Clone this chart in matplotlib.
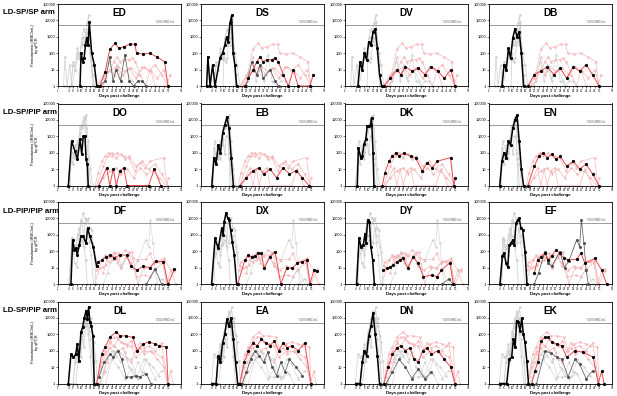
import matplotlib.pyplot as plt
import numpy as np

plt.rcParams['font.family'] = ['Liberation Sans', 'DejaVu Sans']

row_labels = ['LD-SP/SP arm', 'LD-SP/PIP arm', 'LD-PIP/PIP arm', 'LD-SP/PIP arm']
panel_names = [['ED', 'DS', 'DV', 'DB'],
               ['DO', 'EB', 'DK', 'EN'],
               ['DF', 'DX', 'DY', 'EF'],
               ['DL', 'EA', 'DN', 'EK']]

# primary parasitaemia (black line), days / iRBC per mL
black_lines = {
    'ED': ([9.2, 9.7, 10.5, 11.1, 11.7, 12.3, 12.9, 13.5, 14.6, 15.8, 17],
           [1, 100, 30, 50, 300, 850, 300, 8000, 100, 20, 1]),
    'DS': ([1.6, 2.2, 3.2, 4.4, 5.5, 7.8, 9, 10, 10.9, 11.6, 12.4, 13.2, 13.9, 14.7, 15.5],
           [1, 60, 1, 20, 1, 50, 100, 300, 1000, 500, 6600, 20000, 100, 20, 1]),
    'DV': ([5, 6, 7, 8, 9, 10, 11, 12, 13, 14, 15, 16],
           [1, 30, 10, 100, 40, 500, 300, 2000, 3000, 200, 5, 1]),
    'DB': ([5, 6, 7, 8, 9, 10, 11, 12, 13, 14, 15],
           [1, 20, 10, 200, 50, 800, 3000, 1000, 2000, 100, 1]),
    'DO': ([3.8, 5.3, 6.9, 8, 9.2, 10, 10.7, 11.5, 12, 12.6, 13],
           [1, 500, 120, 40, 640, 80, 1000, 1000, 40, 20, 1]),
    'EB': ([4, 5, 6, 7, 8, 9, 10, 11, 12, 13, 14],
           [1, 50, 20, 300, 100, 1500, 5000, 15000, 3000, 50, 1]),
    'DK': ([4.7, 5.2, 6.3, 7, 7.8, 8.6, 9.3, 10.1, 10.9, 11.3, 12, 12.4],
           [1, 200, 50, 60, 320, 640, 4200, 4200, 5200, 13000, 100, 1]),
    'EN': ([4, 5, 6, 7, 8, 9, 10, 11, 12, 13, 14, 15],
           [1, 30, 100, 50, 500, 300, 3000, 10000, 20000, 500, 10, 1]),
    'DF': ([5, 5.8, 6.6, 7.3, 7.9, 8.9, 9.6, 10.7, 12, 12.7, 13.8, 15.3, 16.9],
           [1, 480, 120, 150, 60, 240, 800, 800, 300, 2500, 800, 190, 12]),
    'DX': ([3.9, 5.5, 7, 8.6, 9.3, 9.8, 10.6, 11.4, 12.1, 12.7, 13.5, 14.4, 15.5],
           [1, 600, 150, 2500, 1000, 6300, 22000, 10000, 8000, 2000, 380, 60, 1]),
    'DY': ([4.4, 5.5, 6.4, 7.5, 8.3, 8.7, 9.5, 10.3, 11, 11.8, 12.6],
           [1, 600, 190, 240, 1200, 300, 8000, 6300, 190, 30, 1]),
    'EF': ([4.1, 5.2, 6, 6.9, 7.7, 8.4, 9.2, 10, 10.8, 11.5, 12.3, 13, 13.8, 14.6, 15.7, 16.6],
           [1, 50, 80, 18, 11, 240, 300, 480, 240, 5000, 8000, 10000, 2500, 2000, 95, 1]),
    'DL': ([3.8, 5, 6.1, 7.2, 7.9, 8.7, 9.6, 10.4, 11.2, 12, 12.6, 13.2, 13.8, 14.4, 15.2, 15.8],
           [1, 60, 40, 60, 250, 25, 1300, 2700, 10000, 28000, 8500, 45000, 5300, 3400, 800, 1]),
    'EA': ([4, 6, 7, 8, 9, 10, 11, 12, 13, 14, 15, 16],
           [1, 1, 50, 20, 300, 1000, 8000, 3000, 10000, 500, 20, 1]),
    'DN': ([4, 6, 7, 8, 9, 10, 11, 12, 13, 14, 15],
           [1, 1, 20, 100, 50, 800, 3000, 20000, 1000, 50, 1]),
    'EK': ([4.1, 7.2, 8.4, 9.5, 10.3, 11.1, 11.8, 12.6, 13.4, 14.2, 14.9, 15.7, 16.5, 17.3],
           [1, 1, 30, 40, 500, 160, 6500, 5300, 1650, 10000, 1000, 320, 25, 1]),
}

# later parasitaemia (red line)
red_lines = {
    'ED': ([18.4, 20.8, 23, 25.4, 27.2, 29.6, 32.3, 34.6, 35.4, 38.5, 41.6, 44.7, 48.4, 50],
           [1, 7, 170, 400, 200, 250, 360, 360, 100, 90, 100, 60, 30, 1]),
    'DS': ([19.4, 21, 23.3, 24.8, 26.3, 27.9, 29.5, 31.8, 33.3, 34.8, 37.2, 39.5, 41.8, 44, 49.5, 51],
           [1, 3, 10, 30, 60, 30, 40, 40, 50, 30, 5, 1, 10, 1, 1, 5]),
    'DV': ([17, 20, 23, 25, 27, 30, 33, 36, 39, 42, 45, 48, 50],
           [1, 3, 10, 5, 15, 8, 12, 5, 15, 8, 3, 10, 1]),
    'DB': ([17, 20, 23, 26, 29, 32, 35, 38, 41, 44, 47, 50],
           [1, 5, 8, 15, 5, 12, 3, 15, 8, 20, 5, 1]),
    'DO': ([18, 21.5, 23, 24.6, 26, 27.7, 29.5, 31, 41, 43.6, 46.7],
           [1, 12, 1, 10, 1, 8, 12, 1, 1, 10, 1]),
    'EB': ([17, 20, 23, 26, 28, 31, 34, 37, 40, 43, 46, 49],
           [1, 3, 8, 12, 5, 10, 3, 12, 5, 8, 3, 1]),
    'DK': ([16.3, 17.5, 19.4, 20.9, 22.5, 24, 26.3, 29.4, 31.7, 34.8, 37.1, 39.4, 41.7, 47.9, 49.4, 50.2],
           [1, 6, 30, 60, 100, 60, 100, 60, 50, 7.5, 25, 12, 30, 50, 1, 3]),
    'EN': ([17, 20, 22, 24, 26, 28, 30, 32, 35, 38, 41, 44, 47, 50],
           [1, 15, 60, 100, 50, 80, 40, 60, 15, 30, 10, 20, 5, 1]),
    'DF': ([16.9, 17.7, 19.4, 21.3, 23.3, 25, 27.6, 30.8, 32.8, 35.4, 38.5, 41.6, 44.2, 47.8, 50, 52.9],
           [12, 23, 30, 45, 58, 40, 58, 58, 12, 7, 12, 10, 25, 23, 1, 8]),
    'DX': ([16, 19.4, 20.9, 22.5, 24, 25.5, 27, 28.2, 31, 33.3, 36, 38.8, 41.2, 43.5, 45.8, 48, 49.5, 51.3, 52.8],
           [1, 30, 58, 45, 50, 75, 75, 9, 45, 95, 1, 10, 9, 18, 23, 30, 1, 7, 6]),
    'DY': ([16.8, 18.3, 19.8, 21.4, 22.9, 24.5, 26, 28, 30.6, 33, 35.3, 39.2, 41.5, 43.7, 47.6, 49.2],
           [7, 9, 11, 15, 23, 30, 37, 9, 45, 18, 2.8, 3.5, 2.8, 7, 20, 1]),
    'EF': ([20, 21.5, 23.1, 24.9, 26.4, 28, 30, 31.8, 33.9, 35.7, 39.6, 41.6, 43.5, 48, 51.2, 53.5],
           [4.5, 30, 45, 80, 30, 50, 120, 75, 37, 30, 32, 75, 18, 37, 7, 1]),
    'DL': ([16.9, 19.2, 20.8, 23, 25.9, 27.7, 30.5, 33.6, 35.7, 38.5, 41, 43.9, 46, 49.2, 50],
           [1, 60, 160, 650, 1400, 800, 800, 650, 100, 260, 340, 260, 200, 170, 1]),
    'EA': ([17, 19, 21, 23, 25, 27, 29, 31, 33, 35, 37, 39, 41, 44, 47, 50],
           [1, 20, 100, 300, 200, 500, 300, 200, 400, 100, 300, 150, 200, 100, 300, 1]),
    'DN': ([17, 19, 21, 23, 25, 27, 29, 31, 33, 35, 37, 39, 42, 45, 48, 50],
           [1, 10, 60, 150, 200, 100, 150, 30, 20, 100, 150, 60, 100, 30, 10, 1]),
    'EK': ([18.8, 20.3, 21.6, 23, 25, 26.5, 28.1, 30.4, 32.7, 35, 38.8, 42.7, 47.3, 49.6, 51.2, 52.3],
           [1, 6, 20, 390, 650, 650, 320, 260, 200, 40, 100, 80, 40, 1, 5.5, 1]),
}

# second later series (thin dark grey line)
grey_lines = {
    'ED': ([18, 21, 23, 24.5, 26, 28, 30, 32, 34, 36, 38, 40],
           [1, 2, 60, 2, 10, 2, 80, 2, 1, 2, 2, 1]),
    'DS': ([20, 22.5, 24.8, 26.3, 27.9, 31, 33.3, 35],
           [1, 30, 5, 20, 3, 10, 2, 1]),
    'DF': ([40, 44, 47], [1, 8, 1]),
    'DY': ([44, 47, 49], [1, 2, 1]),
    'EF': ([20, 22, 24.9, 26.5, 28, 31.8, 34, 36, 39.6, 41, 41.8, 43, 44, 45],
           [1, 5, 90, 20, 12, 90, 10, 25, 480, 190, 8000, 300, 7, 1]),
    'DL': ([18, 20.4, 23, 24.6, 26.6, 28.5, 30.6, 33, 35, 37, 40, 42],
           [2.5, 20, 60, 40, 100, 30, 2.5, 2.5, 3, 2.5, 4, 1]),
    'EA': ([18, 20, 22, 24, 26, 28, 30, 32, 34, 36, 38, 40, 43, 46],
           [1, 5, 30, 100, 50, 20, 80, 10, 3, 20, 5, 30, 10, 3]),
    'DN': ([18, 21, 24, 27, 30, 33, 36, 39],
           [1, 5, 30, 10, 2, 8, 2, 5]),
    'EK': ([21, 25, 27.6, 30.4, 32.7, 35.7, 38.8, 41, 44, 47],
           [1, 100, 70, 40, 30, 2.5, 30, 15, 2, 6]),
}

x_ticks = [-1] + list(range(4, 51, 2)) + [56]
y_ticks = [1, 10, 100, 1000, 10000, 100000]
threshold = 5000

RED = '#e8494f'
PINK = '#f5b9bb'
LIGHT = '#cfcfcf'

fig = plt.figure(figsize=(6.17, 3.96), dpi=100)
W, H = 617, 396
col_left = [58, 201, 345, 489]
row_top = [4, 103.5, 202, 301.5]
ax_w, ax_h = 123, 82
label_y = [13, 112, 211, 310]

for r in range(4):
    fig.text(3 / W, 1 - label_y[r] / H, row_labels[r], fontsize=5.6,
             fontweight='bold', ha='left', va='center')
    for c in range(4):
        name = panel_names[r][c]
        ax = fig.add_axes([col_left[c] / W, 1 - (row_top[r] + ax_h) / H, ax_w / W, ax_h / H])
        ax.set_yscale('log')

        # other subjects of the same row, drawn faintly
        for other in panel_names[r]:
            if other == name:
                continue
            d, v = black_lines[other]
            ax.plot(d, v, color=LIGHT, lw=0.5, marker='o', ms=0.8, clip_on=False, zorder=1)
            if other in grey_lines:
                d, v = grey_lines[other]
                ax.plot(d, v, color=LIGHT, lw=0.4, marker='o', ms=0.7, clip_on=False, zorder=1)
            d, v = red_lines[other]
            ax.plot(d, v, color=PINK, lw=0.5, marker='o', ms=0.8, clip_on=False, zorder=1)

        ax.axhline(threshold, color='#9a9a9a', lw=0.7, zorder=2)
        ax.text(53, threshold * 1.2, '5000 iRBC/mL', fontsize=2, color='#555555',
                ha='right', va='bottom')

        if name in grey_lines:
            d, v = grey_lines[name]
            ax.plot(d, v, color='#4d4d4d', lw=0.5, marker='s', ms=1.0, clip_on=False, zorder=3)
        d, v = red_lines[name]
        ax.plot(d, v, color=RED, lw=0.7, marker='o', ms=1.3, mfc='black', mec='black',
                clip_on=False, zorder=4)
        d, v = black_lines[name]
        ax.plot(d, v, color='black', lw=1.1, marker='s', ms=1.1, clip_on=False, zorder=5)

        ax.set_xlim(-1, 56)
        ax.set_ylim(1, 100000)
        ax.set_xticks(x_ticks)
        ax.set_xticklabels([str(t) for t in x_ticks], fontsize=2)
        ax.set_yticks(y_ticks)
        ax.set_yticklabels([str(t) for t in y_ticks], fontsize=2.9)
        ax.yaxis.set_minor_locator(plt.NullLocator())
        ax.tick_params(axis='both', length=1.5, width=0.4, pad=0.6)
        for sp in ax.spines.values():
            sp.set_linewidth(0.6)

        ax.text(0.5, 0.89, name, transform=ax.transAxes, fontsize=7.2,
                fontweight='bold', ha='center', va='center')
        ax.set_xlabel('Days post challenge', fontsize=3.1, fontweight='bold', labelpad=0.6)
        if c == 0:
            ax.set_ylabel('Parasitaemia (iRBC/mL)\nby qPCR', fontsize=2.8, labelpad=2)

fig.savefig('out.png', dpi=100)
